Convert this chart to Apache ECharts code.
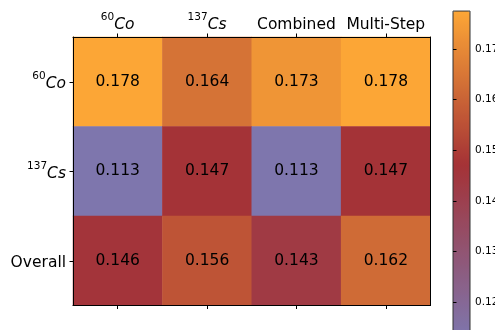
<!DOCTYPE html>
<html>
<head>
<meta charset="utf-8">
<script src="https://cdn.jsdelivr.net/npm/echarts@6/dist/echarts.min.js"></script>
<style>
html,body{margin:0;padding:0;background:#fff;}
#c{width:495px;height:330px;}
</style>
</head>
<body>
<div id="c"></div>
<script>
// ---- data ----
const colNames = ['60Co', '137Cs', 'Combined', 'Multi-Step'];
const rowNames = ['60Co', '137Cs', 'Overall'];
const row60Co = [0.178, 0.164, 0.173, 0.178];
const row137Cs = [0.113, 0.147, 0.113, 0.147];
const rowOverall = [0.146, 0.156, 0.143, 0.162];
const colorbarTicks = [0.12, 0.13, 0.14, 0.15, 0.16, 0.17];
const cbMin = 0.1128, cbMax = 0.1775;

const rows = [row60Co, row137Cs, rowOverall];
const heatData = [];
rows.forEach((r, yi) => r.forEach((v, xi) => heatData.push([xi, yi, v])));

// colormap: purple -> dark red -> orange
const anchors = [[0.113, [126, 118, 174]], [0.147, [164, 50, 54]], [0.1775, [252, 166, 54]]];
function cmap(v) {
  if (v <= anchors[0][0]) return anchors[0][1];
  for (let i = 1; i < anchors.length; i++) {
    if (v <= anchors[i][0]) {
      const t = (v - anchors[i-1][0]) / (anchors[i][0] - anchors[i-1][0]);
      return anchors[i-1][1].map((c, k) => Math.round(c + t * (anchors[i][1][k] - c)));
    }
  }
  return anchors[anchors.length-1][1];
}
const stops = [];
const N = 60;
for (let i = 0; i <= N; i++) {
  const v = cbMin + (cbMax - cbMin) * i / N;
  const c = cmap(v);
  stops.push('rgb(' + c.join(',') + ')');
}

function fmtLabel(s) {
  const m = /^(\d+)([A-Za-z]+)$/.exec(s);
  if (m) return '{sup|' + m[1] + '}{it|' + m[2] + '}';
  return '{n|' + s + '}';
}
const FS = 15.5;
const rich = {
  sup: {fontSize: 10.5, color: '#000', fontFamily: 'DejaVu Sans', verticalAlign: 'top', lineHeight: 21, padding: [0, 0, 0, 0]},
  it: {fontSize: FS, fontStyle: 'italic', color: '#000', fontFamily: 'DejaVu Sans', lineHeight: 21, verticalAlign: 'bottom'},
  n: {fontSize: FS, color: '#000', fontFamily: 'DejaVu Sans', lineHeight: 21, verticalAlign: 'bottom'}
};

const G = {left: 73, top: 37, width: 357.5, height: 268.5};
const chart = echarts.init(document.getElementById('c'), null, {renderer: 'canvas'});
const lineStyle = {color: '#000', width: 1};
chart.setOption({
  animation: false,
  backgroundColor: '#fff',
  textStyle: {fontFamily: 'DejaVu Sans'},
  grid: [
    {left: G.left, top: G.top, width: G.width, height: G.height, containLabel: false, outerBoundsMode: 'none'},
    {left: 453, top: 11.05, width: 17, height: 327.4, show: true, z: 10, backgroundColor: 'transparent', borderColor: '#333', borderWidth: 1, containLabel: false, outerBoundsMode: 'none'}
  ],
  xAxis: [
    {type: 'category', gridIndex: 0, data: colNames, position: 'top', z: 5,
      axisLine: {show: true, lineStyle: lineStyle},
      axisTick: {show: true, alignWithLabel: true, length: 3.5, lineStyle: {color: '#000', width: 1}},
      axisLabel: {show: true, margin: 4, interval: 0, formatter: fmtLabel, rich: rich},
      splitLine: {show: false}, splitArea: {show: false}},
    {type: 'category', gridIndex: 0, data: colNames, position: 'bottom', z: 5,
      axisLine: {show: true, lineStyle: lineStyle},
      axisTick: {show: true, alignWithLabel: true, length: 3.5, lineStyle: {color: '#000', width: 1}},
      axisLabel: {show: false}, splitLine: {show: false}},
    {type: 'value', gridIndex: 1, show: false, min: 0, max: 1}
  ],
  yAxis: [
    {type: 'category', gridIndex: 0, data: rowNames, inverse: true, position: 'left', z: 5,
      axisLine: {show: true, lineStyle: lineStyle},
      axisTick: {show: true, alignWithLabel: true, length: 3.5, lineStyle: {color: '#000', width: 1}},
      axisLabel: {show: true, margin: 7, interval: 0, formatter: fmtLabel, rich: rich},
      splitLine: {show: false}, splitArea: {show: false}},
    {type: 'category', gridIndex: 0, data: rowNames, inverse: true, position: 'right', z: 5,
      axisLine: {show: true, lineStyle: lineStyle},
      axisTick: {show: false}, axisLabel: {show: false}, splitLine: {show: false}},
    {type: 'value', gridIndex: 1, position: 'right', min: cbMin, max: cbMax, z: 11,
      axisLine: {show: false},
      axisTick: {show: true, length: 3.5, customValues: colorbarTicks, lineStyle: {color: '#000', width: 1}},
      axisLabel: {show: true, margin: 5, customValues: colorbarTicks, color: '#000', fontSize: 10.5, fontFamily: 'DejaVu Sans',
        formatter: v => v.toFixed(2)},
      splitLine: {show: false}}
  ],
  visualMap: {
    type: 'continuous', min: cbMin, max: cbMax, seriesIndex: 0,
    calculable: false, hoverLink: false,
    left: 453, top: 11.05, itemWidth: 17, itemHeight: 327.4, padding: 0,
    inRange: {color: stops}, text: null, showLabel: false
  },
  series: [{
    type: 'heatmap', xAxisIndex: 0, yAxisIndex: 0, data: heatData,
    label: {show: true, color: '#000', fontSize: FS, fontFamily: 'DejaVu Sans',
      formatter: p => p.value[2].toFixed(3)},
    itemStyle: {borderWidth: 0},
    emphasis: {disabled: true}
  }]
});
</script>
</body>
</html>
